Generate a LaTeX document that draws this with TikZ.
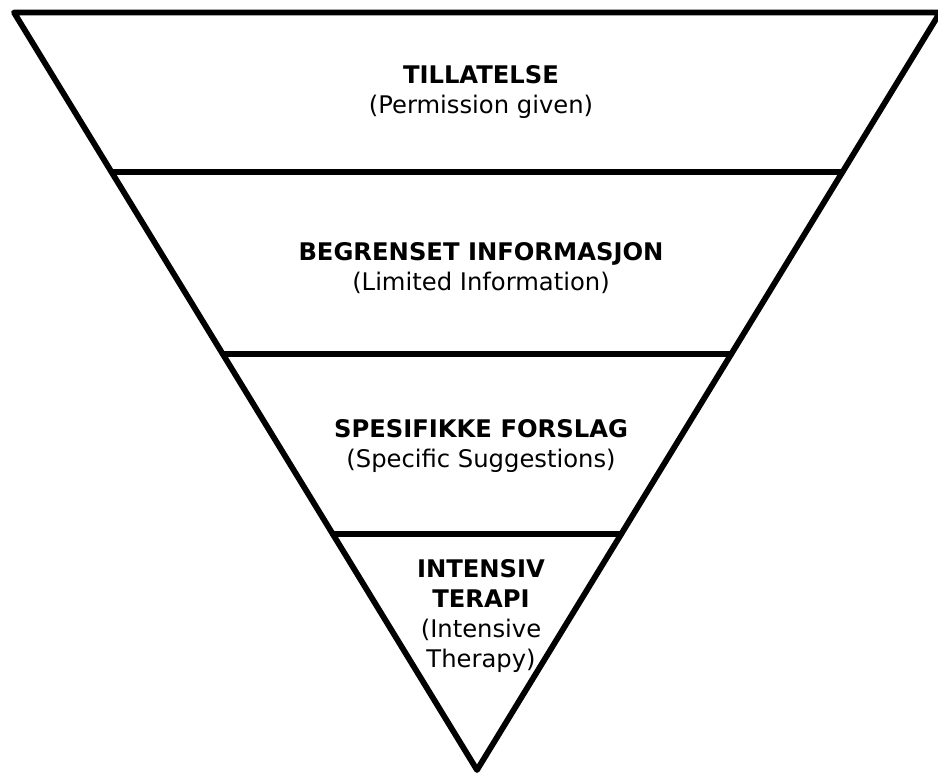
\documentclass[tikz,border=0pt]{standalone}
\usepackage{fontspec}
\setmainfont{DejaVu Sans}
\usetikzlibrary{calc}
\begin{document}
\begin{tikzpicture}[x=0.5mm, y=-0.5mm, line join=round, line cap=round]
			\tikzset{layer/.style={align=center, inner sep=0pt, font=\fontsize{34.5}{43}\selectfont}}
			\useasboundingbox (0,0) rectangle (938,776);
			\coordinate (L) at (14,12.5);
			\coordinate (R) at (940,12.5);
			\coordinate (A) at (477,770);
			\draw[line width=2.9mm] (L)--(R)--(A)--cycle;
			\foreach \t/\n in {0.2106/1, 0.4508/2, 0.6884/3}
				\draw[line width=2.9mm] ($(L)!\t!(A)$) coordinate (l\n)--($(R)!\t!(A)$) coordinate (r\n);
			\node[layer] (lay1) at (481,92) {\textbf{TILLATELSE}\\(Permission given)};
			\node[layer] (lay2) at (481,268) {\textbf{BEGRENSET INFORMASJON}\\(Limited Information)};
			\node[layer] (lay3) at (481,446) {\textbf{SPESIFIKKE FORSLAG}\\(Specific Suggestions)};
			\node[layer] (lay4) at (481,616) {\textbf{INTENSIV}\\\textbf{TERAPI}\\(Intensive\\Therapy)};
		\end{tikzpicture}
\end{document}
